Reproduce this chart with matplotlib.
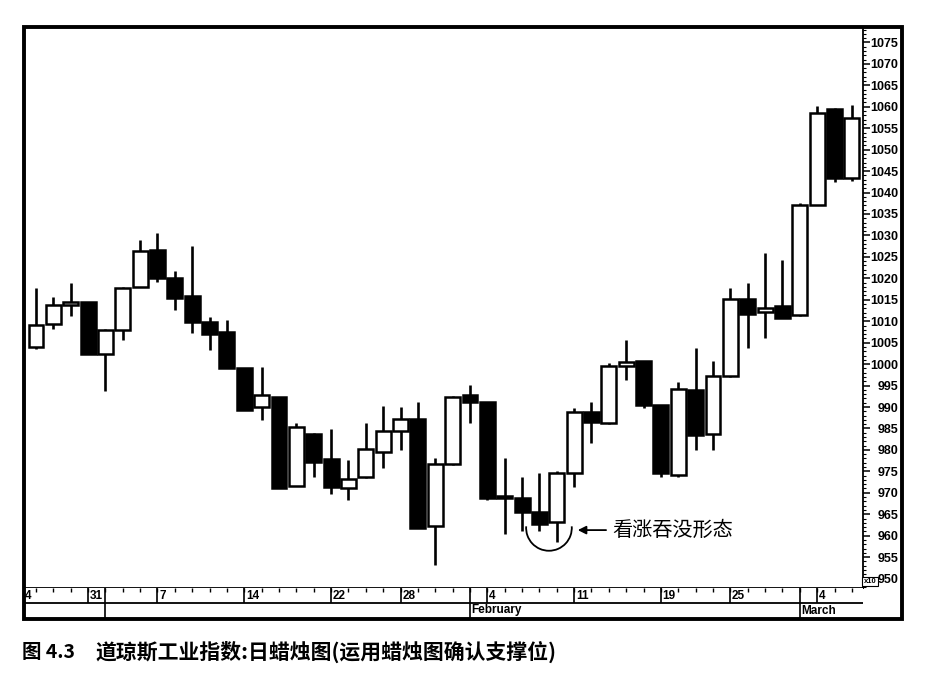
import numpy as np
import matplotlib
matplotlib.use("Agg")
import matplotlib.pyplot as plt
from matplotlib.patches import Arc, Rectangle
from matplotlib.ticker import MultipleLocator

cjk = ['Noto Sans CJK SC', 'DejaVu Sans']
num_font = 'Liberation Sans'

# trading days, Dec 26 .. Mar 6 (index 0 = Dec 31)
days = np.arange(-3, 45)
opens = [1004.0, 1009.3, 1013.8, 1014.5, 1002.3, 1007.9, 1018.0, 1026.7, 1020.1, 1015.9,
         1009.9, 1007.5, 999.2, 989.9, 992.4, 971.5, 983.7, 977.8, 971.2, 973.6,
         979.5, 984.4, 987.1, 962.2, 976.7, 992.8, 991.2, 969.1, 968.7, 965.6,
         963.2, 974.5, 988.9, 986.2, 999.5, 1000.8, 990.4, 974.1, 993.9, 983.8,
         997.2, 1015.1, 1012.2, 1013.5, 1011.4, 1037.1, 1059.4, 1043.3]
highs = [1017.7, 1015.7, 1019.0, 1014.5, 1008.3, 1018.0, 1028.9, 1030.5, 1021.7, 1027.6,
         1010.9, 1010.4, 999.2, 999.4, 992.4, 986.2, 984.0, 984.8, 977.6, 986.2,
         990.2, 989.9, 991.2, 978.0, 992.5, 995.1, 991.2, 978.0, 973.7, 974.7,
         975.0, 989.7, 991.2, 1000.2, 1005.6, 1000.8, 990.4, 995.9, 1003.7, 1000.8,
         1017.7, 1019.0, 1026.0, 1024.3, 1037.5, 1060.2, 1059.6, 1060.4]
lows = [1003.5, 1008.3, 1011.2, 1002.3, 993.8, 1005.6, 1018.0, 1019.2, 1012.6, 1007.2,
        1003.4, 999.0, 989.3, 986.9, 971.2, 971.5, 973.7, 969.8, 968.3, 973.4,
        975.7, 979.9, 961.9, 953.1, 976.5, 986.3, 968.3, 960.5, 961.1, 961.0,
        958.6, 971.4, 981.5, 986.0, 996.3, 989.7, 973.6, 973.6, 979.9, 979.9,
        997.0, 1003.7, 1006.0, 1010.7, 1011.2, 1037.0, 1042.5, 1042.7]
closes = [1009.1, 1013.8, 1014.5, 1002.3, 1007.9, 1017.8, 1026.4, 1020.0, 1015.5, 1009.9,
          1007.0, 999.0, 989.3, 992.9, 971.2, 985.4, 977.2, 971.4, 973.3, 980.1,
          984.4, 987.1, 961.9, 976.7, 992.4, 991.2, 968.9, 968.9, 965.6, 962.7,
          974.7, 988.9, 986.5, 999.5, 1000.5, 990.4, 974.5, 994.3, 983.4, 997.2,
          1015.1, 1011.8, 1013.0, 1010.7, 1037.1, 1058.6, 1043.3, 1057.3]

tick_idx = [0, 4, 9, 14, 18, 23, 28, 33, 37, 42]
tick_lbl = ['31', '7', '14', '22', '28', '4', '11', '19', '25', '4']
month_idx = [1, 22, 41]
month_lbl = ['', 'February', 'March']

note_text = '看涨吞没形态'
caption_num = '图 4.3'
caption_text = '道琼斯工业指数:日蜡烛图(运用蜡烛图确认支撑位)'

o = np.array(opens)
h = np.array(highs)
l = np.array(lows)
c = np.array(closes)

W, H = 928, 678
fig = plt.figure(figsize=(W / 100, H / 100), dpi=100)

x0, x1 = 24 / W, 863 / W
ax = fig.add_axes([x0, 1 - 588 / H, x1 - x0, (588 - 27) / H])
band = fig.add_axes([x0, 1 - 618 / H, x1 - x0, 30 / H], sharex=ax)

# candles
colors = ['white' if cc >= oo else 'black' for oo, cc in zip(o, c)]
ax.vlines(days, l, h, color='black', lw=1.9, zorder=1)
ax.bar(days, np.maximum(np.abs(c - o), 0.4), bottom=np.minimum(o, c), width=0.86,
       color=colors, edgecolor='black', linewidth=1.8, zorder=2)

ax.set_xlim(-3.69, 44.64)
ax.set_ylim(947.8, 1078.6)

ax.yaxis.tick_right()
ax.set_yticks(np.arange(950, 1076, 5))
ax.yaxis.set_minor_locator(MultipleLocator(1))
ax.tick_params(axis='y', which='major', direction='out', length=5, width=1.1,
               pad=20.5, labelsize=9)
ax.tick_params(axis='y', which='minor', direction='out', length=2.5, width=0.8)
for t in ax.get_yticklabels():
    t.set_ha('right')
    t.set_fontfamily(num_font)
    t.set_fontweight('bold')
ax.tick_params(axis='x', which='both', bottom=False, labelbottom=False)
ax.spines['top'].set_visible(False)
ax.spines['left'].set_visible(False)
ax.spines['right'].set_linewidth(1.3)
ax.spines['bottom'].set_linewidth(1.3)

# bullish engulfing note
ax.add_patch(Arc((26.55, 961.8), 2.63, 10.63, theta1=164, theta2=16, color='black', lw=1.3))
ax.annotate('', xy=(28.05, 961.3), xytext=(30.0, 961.3),
            arrowprops=dict(arrowstyle='-|>', color='black', lw=1.3, mutation_scale=12))
ax.text(30.2, 961.3, note_text, family=cjk, fontsize=14.5, ha='left', va='center')

# date band
for s in band.spines.values():
    s.set_visible(False)
band.set_ylim(0, 1)
band.set_yticks([])
band.tick_params(axis='x', which='both', bottom=False, labelbottom=False)
band.axhline(0.5, color='black', lw=1.3)
band.vlines(days, 0.86, 1.0, color='black', lw=1.0)
band.vlines(tick_idx, 0.5, 1.0, color='black', lw=1.2)
for i, s in zip(tick_idx, tick_lbl):
    band.text(i + 0.1, 0.74, s, fontsize=8.5, fontweight='bold', family=num_font,
              ha='left', va='center')
band.text(-3.66, 0.74, '4', fontsize=8.5, fontweight='bold', family=num_font,
          ha='left', va='center')
band.vlines(month_idx, 0.0, 1.0, color='black', lw=1.2)
for i, s in zip(month_idx, month_lbl):
    band.text(i + 0.1, 0.25, s, fontsize=8.5, fontweight='bold', family=num_font,
              ha='left', va='center')

# outer frame and scale box
fig.add_artist(Rectangle((24 / W, 1 - 619 / H), 878 / W, 592 / H, transform=fig.transFigure,
                         fill=False, ec='black', lw=2.8))
fig.text(870 / W, 1 - 581.5 / H, 'x10', fontsize=5.5, family=num_font, fontweight='bold',
         ha='center', va='center',
         bbox=dict(boxstyle='square,pad=0.15', fc='white', ec='black', lw=0.8))

# caption
fig.text(22 / W, 1 - 652 / H, caption_num, family=cjk, fontsize=14, fontweight='bold',
         ha='left', va='center')
fig.text(96 / W, 1 - 652 / H, caption_text, family=cjk, fontsize=15, fontweight='bold',
         ha='left', va='center')

fig.savefig('out.png', dpi=100)
